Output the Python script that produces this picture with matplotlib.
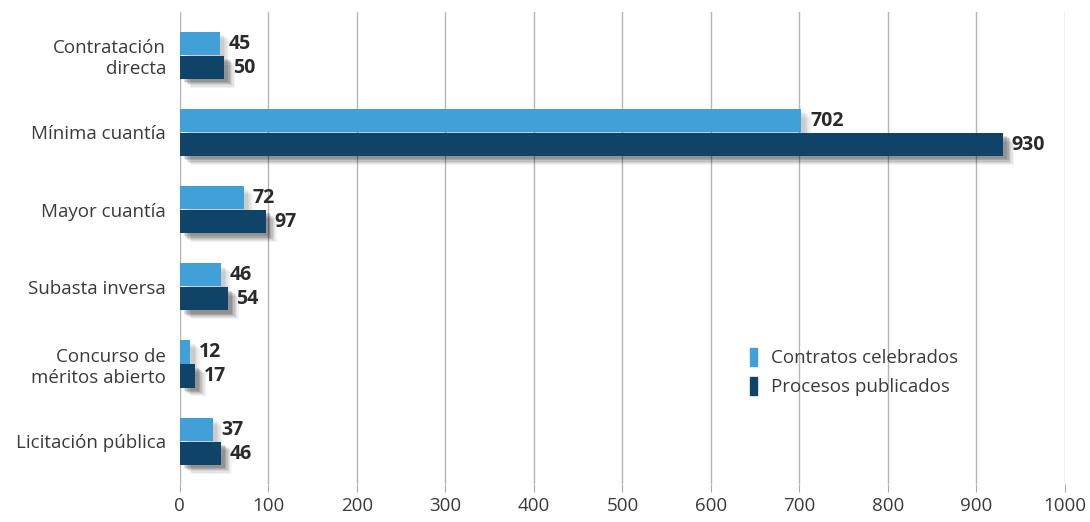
import numpy as np
import matplotlib
matplotlib.use("Agg")
import matplotlib.pyplot as plt
import matplotlib.patheffects as pe

plt.rcParams['font.family'] = ['Open Sans', 'DejaVu Sans']

categories = ["Contratación\ndirecta", "Mínima cuantía", "Mayor cuantía",
              "Subasta inversa", "Concurso de\nméritos abierto", "Licitación pública"]
contratos = [45, 702, 72, 46, 12, 37]
procesos = [50, 930, 97, 54, 17, 46]
series_names = ["Contratos celebrados", "Procesos publicados"]

c_light = "#42a0d8"
c_dark = "#0f4468"
txt = "#3a3a3a"

def shadow(strength):
    # fake a blurred drop shadow with a few soft layers
    effects = []
    for off, a in [(8, 0.04), (7, 0.05), (6, 0.06), (5, 0.08), (4, 0.10), (3, 0.10)]:
        effects.append(pe.SimplePatchShadow(offset=(off, -off * 0.8), shadow_rgbFace="black",
                                            alpha=a * strength))
    effects.append(pe.Normal())
    return effects

fig = plt.figure(figsize=(10.9, 5.22), dpi=100)
ax = fig.add_axes([0.165, 0.072, 0.812, 0.905])

y = np.arange(len(categories))
h = 0.30
b1 = ax.barh(y - h / 2 - 0.005, contratos, height=h, color=c_light, zorder=3)
b2 = ax.barh(y + h / 2 + 0.005, procesos, height=h, color=c_dark, zorder=3)
for r in b1:
    r.set_path_effects(shadow(0.5))
for r in b2:
    r.set_path_effects(shadow(1.2))

for yi, v in zip(y, contratos):
    ax.text(v + 10, yi - h / 2, str(v), va="center", ha="left", fontsize=14,
            fontweight="bold", color="#2a2a2a", zorder=5)
for yi, v in zip(y, procesos):
    ax.text(v + 10, yi + h / 2 + 0.01, str(v), va="center", ha="left", fontsize=14,
            fontweight="bold", color="#2a2a2a", zorder=5)

ax.set_xlim(0, 1000)
ax.set_ylim(len(categories) - 0.44, -0.56)
ax.set_xticks(np.arange(0, 1001, 100))
ax.set_yticks(y)
ax.set_yticklabels(categories, fontsize=13.5, color=txt, linespacing=1.2)
ax.tick_params(axis="y", length=0, pad=10)
ax.tick_params(axis="x", length=6, color="#aaaaaa", labelsize=13.5, labelcolor=txt, pad=3)
ax.grid(axis="x", color="#b5b5b5", linewidth=1, zorder=0)
for s in ax.spines.values():
    s.set_visible(False)

handles = [plt.Rectangle((0, 0), 1, 1, color=c) for c in (c_light, c_dark)]
ax.legend(handles, series_names, loc="upper left", bbox_to_anchor=(0.625, 0.325),
          frameon=False, fontsize=13.5, handlelength=0.4, handleheight=1.1,
          handletextpad=0.7, labelspacing=0.5, labelcolor=txt)

fig.savefig("out.png", dpi=100, facecolor="white")
